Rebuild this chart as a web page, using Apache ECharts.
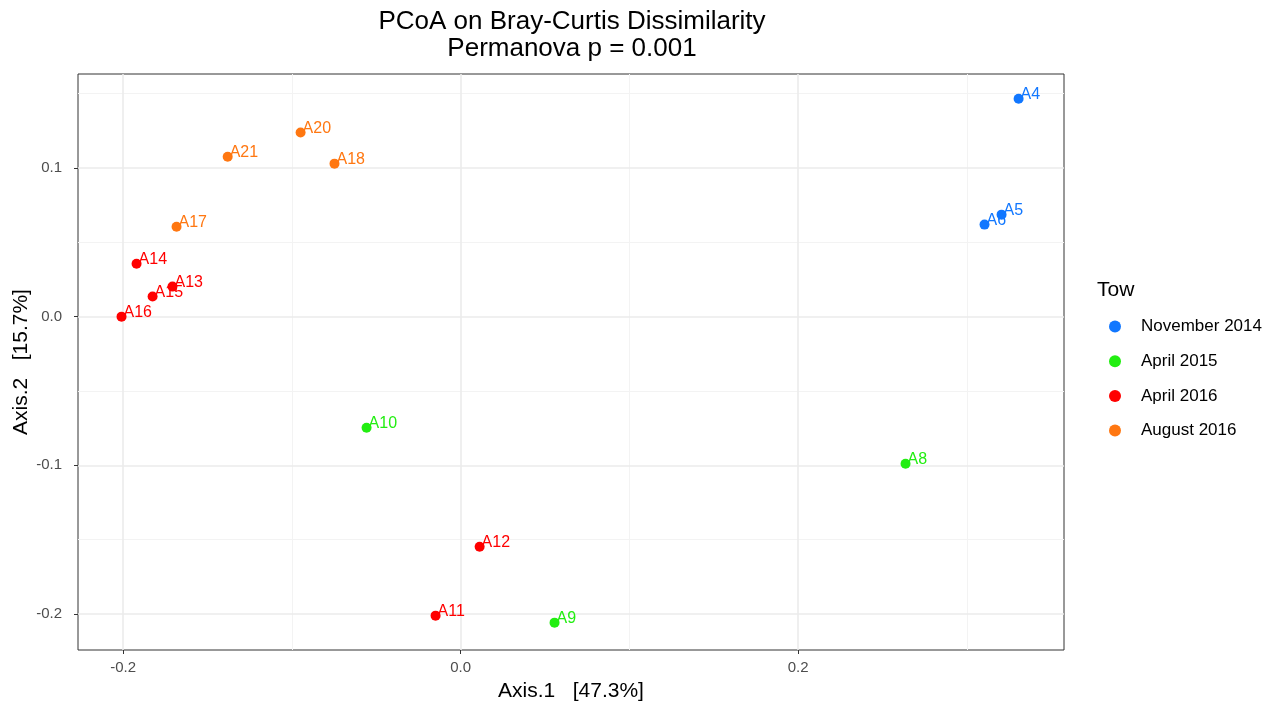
<!DOCTYPE html>
<html>
<head>
<meta charset="utf-8">
<script src="https://cdn.jsdelivr.net/npm/echarts@6/dist/echarts.min.js"></script>
<style>
html,body{margin:0;padding:0;background:#fff;}
#chart{width:1276px;height:704px;}
</style>
</head>
<body>
<div id="chart"></div>
<script>
// ---- data ----
const groupNames = ["November 2014", "April 2015", "April 2016", "August 2016"];
const groupColors = ["#1177FF", "#22EE11", "#FF0000", "#FF7711"];
const sampleNames = ["A4","A5","A6","A8","A9","A10","A11","A12","A13","A14","A15","A16","A17","A18","A20","A21"];
const sampleGroups = [0,0,0,1,1,1,2,2,2,2,2,2,3,3,3,3];
const axis1 = [0.3307,0.3206,0.3105,0.2637,0.0557,-0.0557,-0.0148,0.0113,-0.1707,-0.1920,-0.1825,-0.2009,-0.1683,-0.0747,-0.0948,-0.1380];
const axis2 = [0.1466,0.0686,0.0619,-0.0989,-0.2058,-0.0747,-0.2011,-0.1547,0.0202,0.0356,0.0135,0.0000,0.0605,0.1029,0.1238,0.1076];
const xTicks = [-0.2, 0.0, 0.2];
const yTicks = [-0.2, -0.1, 0.0, 0.1];
const xMinor = [-0.1, 0.1, 0.3];
const yMinor = [-0.15, -0.05, 0.05, 0.15];
const xRange = [-0.2267, 0.3576];
const yRange = [-0.2242, 0.1632];

const FONT = "Liberation Sans, Arial, sans-serif";
const chart = echarts.init(document.getElementById('chart'));

function gridLines(){
  const d = [];
  xMinor.forEach(v => d.push({xAxis: v, lineStyle:{color:'#f3f3f3', width:1, type:'solid'}}));
  yMinor.forEach(v => d.push({yAxis: v, lineStyle:{color:'#f3f3f3', width:1, type:'solid'}}));
  xTicks.forEach(v => d.push({xAxis: v, lineStyle:{color:'#ebebeb', width:1.6, type:'solid'}}));
  yTicks.forEach(v => d.push({yAxis: v, lineStyle:{color:'#ebebeb', width:1.6, type:'solid'}}));
  return d;
}

const series = [{
  type: 'scatter', data: [], silent: true, z: 1,
  markLine: {silent: true, symbol: ['none','none'], label:{show:false}, animation:false,
    lineStyle: {type: 'solid'}, emphasis: {disabled: true}, data: gridLines()}
}];
groupNames.forEach((g, gi) => {
  const pts = [];
  sampleNames.forEach((s, i) => {
    if (sampleGroups[i] === gi) pts.push({value:[axis1[i], axis2[i]], name:s});
  });
  series.push({
    type: 'scatter', name: g, data: pts, symbol:'circle', symbolSize: 10, z: 5,
    itemStyle: {color: groupColors[gi], opacity: 1},
    label: {
      show: true, formatter: p => p.name, position: [7, 1], align: 'left', verticalAlign: 'middle',
      color: groupColors[gi], fontFamily: FONT, fontSize: 16
    },
    labelLayout: {hideOverlap: false}
  });
});

chart.setOption({
  animation: false,
  backgroundColor: '#fff',
  title: [
    {text: 'PCoA on Bray-Curtis Dissimilarity\nPermanova p = 0.001', left: 567, top: 3, textAlign: 'center',
     textStyle: {fontFamily: FONT, fontSize: 26, fontWeight: 'normal', color: '#000', lineHeight: 27}},
    {text: 'Tow', left: 1092, top: 275, textStyle: {fontFamily: FONT, fontSize: 21, fontWeight: 'normal', color: '#000'}}
  ],
  grid: {left: 78, right: 212, top: 74, bottom: 54, show: true, borderColor: '#333', borderWidth: 1,
    backgroundColor: 'transparent', containLabel: false, outerBoundsMode: 'none'},
  legend: {
    orient: 'vertical', left: 1104, top: 313, itemWidth: 42, itemHeight: 12, itemGap: 17.7,
    icon: 'circle', data: groupNames,
    textStyle: {fontFamily: FONT, fontSize: 17, color: '#000', lineHeight: 16}
  },
  xAxis: {
    type: 'value', min: xRange[0], max: xRange[1],
    name: 'Axis.1   [47.3%]', nameLocation: 'middle', nameGap: 31, nameMoveOverlap: false,
    nameTextStyle: {fontFamily: FONT, fontSize: 21, color: '#000'},
    axisLine: {show: false, onZero: false},
    axisTick: {show: true, length: 4, customValues: xTicks, lineStyle: {color: '#333'}},
    axisLabel: {customValues: xTicks, margin: 10, fontFamily: FONT, fontSize: 15, color: '#4d4d4d',
      formatter: v => v.toFixed(1)},
    splitLine: {show: false}
  },
  yAxis: {
    type: 'value', min: yRange[0], max: yRange[1],
    name: 'Axis.2   [15.7%]', nameLocation: 'middle', nameGap: 46, nameRotate: 90, nameMoveOverlap: false,
    nameTextStyle: {fontFamily: FONT, fontSize: 21, color: '#000'},
    axisLine: {show: false, onZero: false},
    axisTick: {show: true, length: 4, customValues: yTicks, lineStyle: {color: '#333'}},
    axisLabel: {customValues: yTicks, margin: 16, fontFamily: FONT, fontSize: 15, color: '#4d4d4d',
      formatter: v => v.toFixed(1)},
    splitLine: {show: false}
  },
  series: series
});
</script>
</body>
</html>
